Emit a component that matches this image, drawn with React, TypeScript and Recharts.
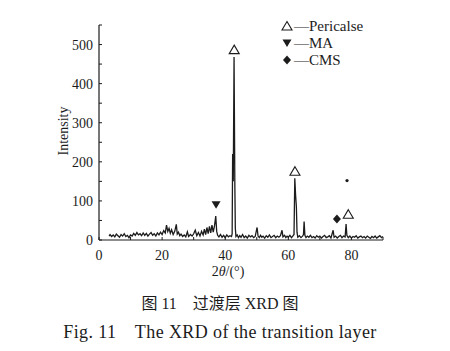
import { ComposedChart, Line, Scatter, XAxis, YAxis } from "recharts"

// 2θ (deg), intensity
const scan: [number, number][] = [
    [3.2, 10], [3.5, 14], [4.0, 9], [4.5, 13], [5.0, 8], [5.5, 15], [6.0, 11], [6.5, 7], [7.0, 14], [7.5, 10],
    [8.0, 16], [8.5, 9], [9.0, 12], [9.5, 6], [10.0, 13], [10.5, 10], [11.0, 17], [11.5, 12], [12.0, 19], [12.5, 13],
    [13.0, 16], [13.5, 11], [14.0, 18], [14.5, 12], [15.0, 17], [15.5, 10], [16.0, 15], [16.5, 19], [17.0, 12], [17.5, 16],
    [18.0, 10], [18.5, 18], [19.0, 13], [19.5, 20], [20.0, 14], [20.5, 24], [21.0, 18], [21.4, 38], [21.8, 22], [22.2, 30],
    [22.6, 17], [23.0, 26], [23.5, 14], [24.0, 22], [24.5, 40], [24.8, 15], [25.2, 20], [25.6, 11], [26.0, 15], [26.5, 9],
    [27.0, 13], [27.5, 8], [28.0, 21], [28.4, 9], [29.0, 14], [29.5, 10], [30.0, 16], [30.5, 25], [31.0, 11], [31.5, 19],
    [32.0, 10], [32.5, 22], [33.0, 13], [33.4, 28], [33.8, 14], [34.2, 32], [34.6, 16], [35.0, 35], [35.4, 18], [35.8, 38],
    [36.2, 20], [36.6, 36], [37.0, 61], [37.3, 22], [37.6, 12], [38.0, 8], [38.5, 14], [39.0, 7], [39.5, 12], [40.0, 6],
    [40.5, 13], [41.0, 8], [41.5, 11], [42.0, 9], [42.2, 16], [42.35, 220], [42.55, 150], [42.8, 468], [43.05, 140], [43.2, 30],
    [43.4, 9], [43.8, 13], [44.2, 6], [44.6, 11], [45.0, 7], [45.5, 14], [46.0, 6], [46.5, 10], [47.0, 5], [47.5, 12],
    [48.0, 8], [48.5, 11], [49.0, 6], [49.5, 9], [50.1, 32], [50.4, 10], [50.8, 6], [51.2, 12], [51.6, 7], [52.0, 10],
    [52.5, 5], [53.0, 11], [53.5, 7], [54.0, 13], [54.5, 6], [55.0, 9], [55.5, 12], [56.0, 6], [56.5, 10], [57.0, 7],
    [57.5, 11], [58.0, 25], [58.3, 8], [58.8, 12], [59.2, 6], [59.6, 10], [60.0, 7], [60.5, 12], [61.0, 6], [61.4, 10],
    [61.8, 14], [62.05, 158], [62.3, 115], [62.55, 85], [62.75, 20], [63.0, 7], [63.5, 11], [64.0, 6], [64.5, 10], [64.8, 14],
    [65.0, 47], [65.25, 12], [65.6, 6], [66.0, 10], [66.5, 7], [67.0, 12], [67.5, 6], [68.0, 9], [68.5, 5], [69.0, 11],
    [69.5, 7], [70.0, 10], [70.5, 5], [71.0, 9], [71.5, 12], [72.0, 6], [72.5, 8], [73.0, 11], [73.5, 5], [74.2, 25],
    [74.5, 7], [75.0, 10], [75.5, 5], [76.0, 9], [76.5, 12], [77.0, 6], [77.5, 10], [78.0, 8], [78.3, 41], [78.55, 12],
    [79.0, 6], [79.5, 10], [80.0, 5], [80.5, 9], [81.0, 7], [81.5, 11], [82.0, 5], [82.5, 8], [83.0, 10], [83.5, 6],
    [84.0, 9], [84.5, 5], [85.0, 10], [85.5, 7], [86.0, 4], [86.5, 9], [87.0, 6], [87.5, 10], [88.0, 5], [88.5, 8],
    [89.0, 11], [89.5, 6], [90.0, 9],
]

// phase markers placed over the peaks
const pericalse = [{ x: 42.85, y: 487 }, { x: 62.1, y: 176 }, { x: 79.0, y: 66 }]
const ma = [{ x: 37.1, y: 90 }]
const cms = [{ x: 75.4, y: 54 }]
const speck = [{ x: 78.6, y: 152 }]

const xTicks = [0, 10, 20, 30, 40, 50, 60, 70, 80, 90]
const xLabels = [0, 20, 40, 60, 80]
const yTicks = [0, 50, 100, 150, 200, 250, 300, 350, 400, 450, 500, 550]
const yLabels = [0, 100, 200, 300, 400, 500]

const legendItems = ["Pericalse", "MA", "CMS"]

const ink = "#1c1c1c"
const serif = "'Liberation Serif', 'Times New Roman', serif"

const data = scan.map(([x, y]) => ({ x, y }))

const XTick = (props: any) => {
    const { x, y, payload } = props
    const axisY = y - 10
    const labelled = xLabels.includes(payload.value)
    return (
        <g>
            <line x1={x} x2={x} y1={axisY} y2={axisY - 3} stroke={ink} strokeWidth={1} />
            {labelled && (
                <text x={x} y={y} dy="0.71em" textAnchor="middle" fontSize={14} fontFamily={serif} fill={ink}>
                    {payload.value}
                </text>
            )}
        </g>
    )
}

const YTick = (props: any) => {
    const { x, y, payload } = props
    const axisX = x + 6
    const labelled = yLabels.includes(payload.value)
    return (
        <g>
            <line x1={axisX} x2={axisX + 3} y1={y} y2={y} stroke={ink} strokeWidth={1} />
            {labelled && (
                <text x={x} y={y} dy="0.36em" textAnchor="end" fontSize={14} fontFamily={serif} fill={ink}>
                    {payload.value}
                </text>
            )}
        </g>
    )
}

const OpenTriangle = ({ cx, cy }: any) => (
    <path d={`M${cx},${cy - 4.5} L${cx + 5},${cy + 4} L${cx - 5},${cy + 4} Z`} fill="#fff" stroke={ink} strokeWidth={1.1} />
)
const DownTriangle = ({ cx, cy }: any) => (
    <path d={`M${cx - 4.5},${cy - 3.5} L${cx + 4.5},${cy - 3.5} L${cx},${cy + 4} Z`} fill={ink} />
)
const Diamond = ({ cx, cy }: any) => (
    <path d={`M${cx},${cy - 4.5} L${cx + 4},${cy} L${cx},${cy + 4.5} L${cx - 4},${cy} Z`} fill={ink} />
)
const Speck = ({ cx, cy }: any) => <circle cx={cx} cy={cy} r={1.6} fill={ink} />

const legendShapes = [OpenTriangle, DownTriangle, Diamond]

export default function App() {
    return (
        <div style={{ position: "absolute", left: 0, top: 0, width: 450, height: 351, background: "#fff" }}>
            <ComposedChart
                width={450}
                height={285}
                data={data}
                margin={{ top: 25, right: 67, bottom: 25, left: 0 }}
            >
                <XAxis
                    dataKey="x"
                    type="number"
                    domain={[0, 90]}
                    ticks={xTicks}
                    interval={0}
                    height={20}
                    tickSize={0}
                    tickMargin={10}
                    tick={<XTick />}
                    axisLine={{ stroke: ink, strokeWidth: 1.2 }}
                />
                <YAxis
                    type="number"
                    domain={[0, 550]}
                    ticks={yTicks}
                    interval={0}
                    width={99}
                    tickSize={0}
                    tickMargin={6}
                    tick={<YTick />}
                    axisLine={{ stroke: ink, strokeWidth: 1.2 }}
                />
                <Line
                    dataKey="y"
                    type="linear"
                    stroke={ink}
                    strokeWidth={1.3}
                    dot={false}
                    isAnimationActive={false}
                />
                <Scatter data={pericalse} dataKey="y" shape={OpenTriangle} isAnimationActive={false} />
                <Scatter data={ma} dataKey="y" shape={DownTriangle} isAnimationActive={false} />
                <Scatter data={cms} dataKey="y" shape={Diamond} isAnimationActive={false} />
                <Scatter data={speck} dataKey="y" shape={Speck} isAnimationActive={false} />

                <text
                    x={63}
                    y={131}
                    transform="rotate(-90 63 131)"
                    textAnchor="middle"
                    dominantBaseline="central"
                    fontSize={14}
                    fontFamily={serif}
                    fill={ink}
                >
                    Intensity
                </text>
                <text x={228} y={276} textAnchor="middle" fontSize={14} fontFamily={serif} fill={ink}>
                    2<tspan fontStyle="italic">θ</tspan>/(°)
                </text>

                {legendItems.map((name, i) => {
                    const Shape = legendShapes[i]
                    const cy = 26 + i * 17
                    return (
                        <g key={name}>
                            <Shape cx={287} cy={cy} />
                            <text x={294} y={cy} dy="0.35em" fontSize={15} fontFamily={serif} fill={ink}>
                                —{name}
                            </text>
                        </g>
                    )
                })}
            </ComposedChart>

            <div
                style={{
                    position: "absolute",
                    left: 0,
                    width: 440,
                    top: 290,
                    textAlign: "center",
                    fontFamily: "'Liberation Serif', 'Noto Sans CJK SC', serif",
                    fontSize: 16,
                    color: ink,
                    whiteSpace: "pre",
                }}
            >
                {"图 11　过渡层 XRD 图"}
            </div>
            <div
                style={{
                    position: "absolute",
                    left: 0,
                    width: 440,
                    top: 320,
                    textAlign: "center",
                    fontFamily: serif,
                    fontSize: 18,
                    letterSpacing: 0.4,
                    color: ink,
                    whiteSpace: "pre",
                }}
            >
                {"Fig. 11　The XRD of the transition layer"}
            </div>
        </div>
    )
}
